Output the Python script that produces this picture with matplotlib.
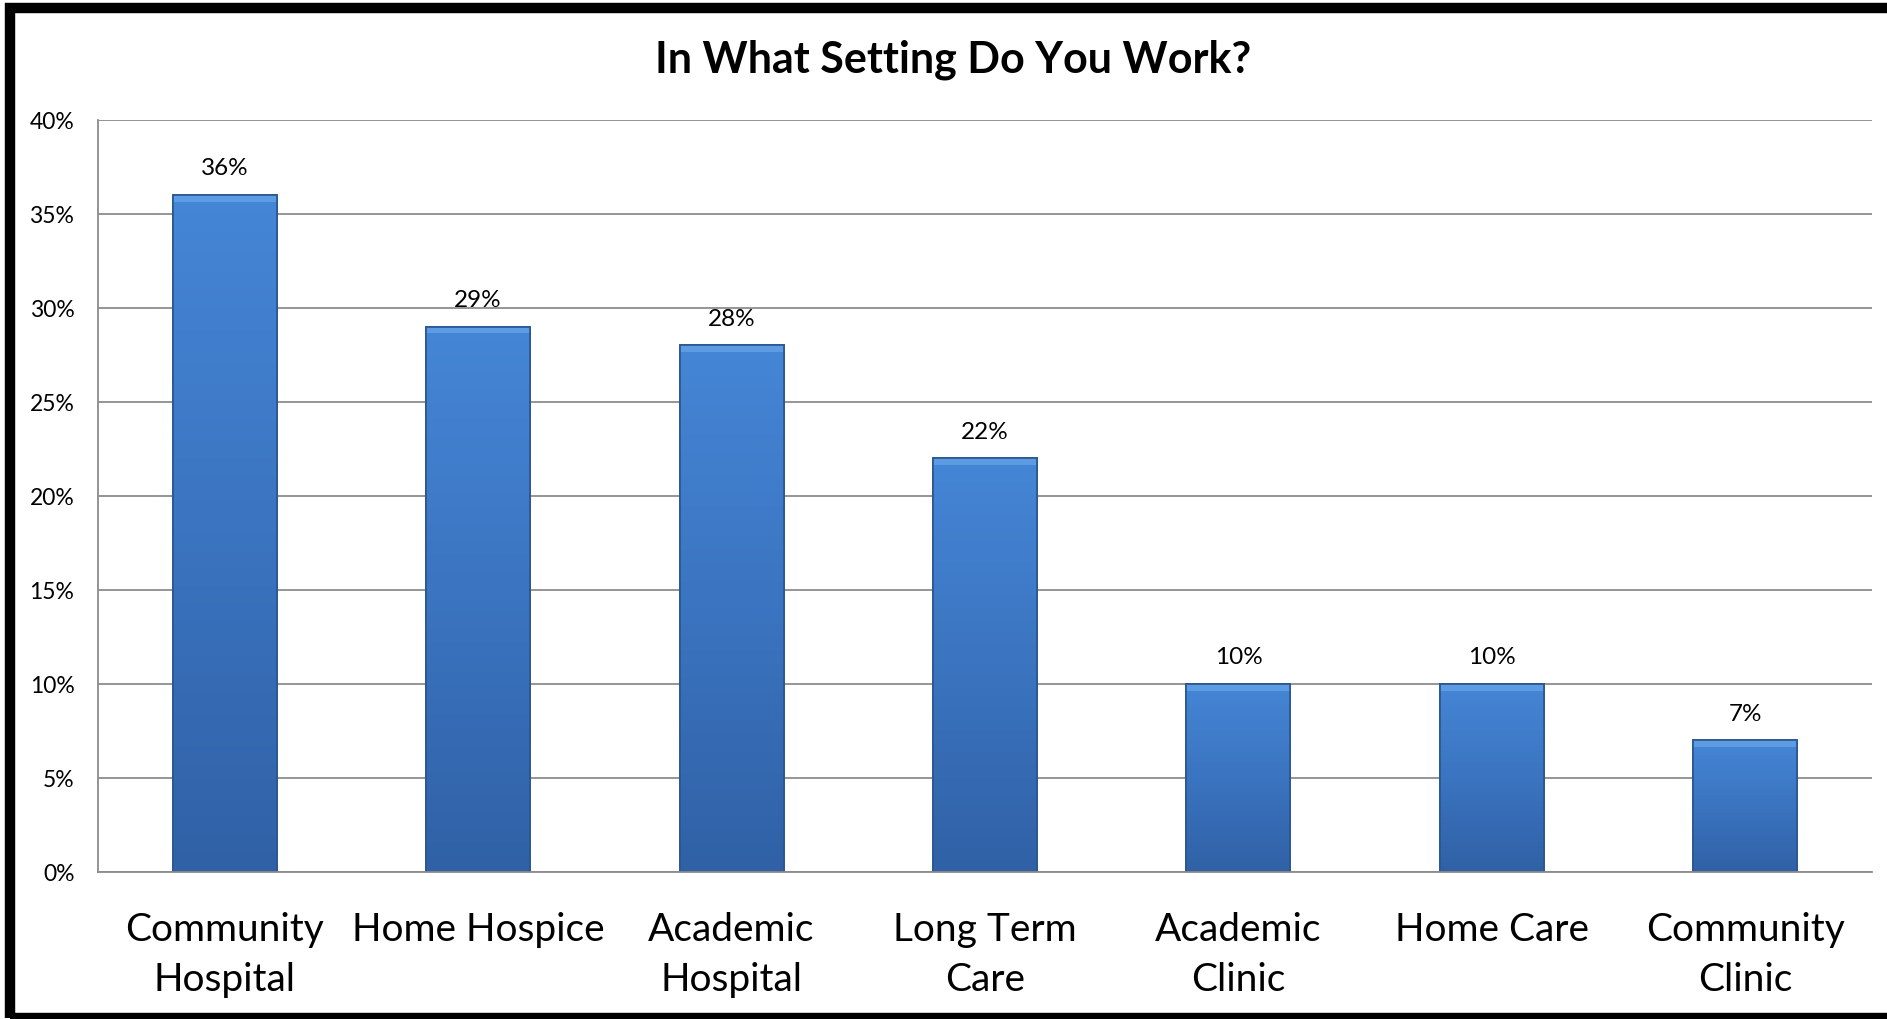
#!/usr/bin/python3

import matplotlib
matplotlib.use('Agg')
import matplotlib.pyplot as plt
import numpy as np
from matplotlib.colors import LinearSegmentedColormap
from matplotlib.patches import Rectangle

categories = ['Community\nHospital', 'Home Hospice', 'Academic\nHospital', 'Long Term\nCare',
              'Academic\nClinic', 'Home Care', 'Community\nClinic']
values = [36, 29, 28, 22, 10, 10, 7]
yticks = [0, 5, 10, 15, 20, 25, 30, 35, 40]
title = 'In What Setting Do You Work?'

plt.rcParams['font.family'] = ['Lato', 'DejaVu Sans']

W, H = 1887, 1020
fig = plt.figure(figsize=(W / 100, H / 100), dpi=100)
ax = fig.add_axes([98 / W, 1 - 873 / H, (1872 - 98) / W, (873 - 120.7) / H])

x = np.arange(len(values))
bars = ax.bar(x, values, width=0.41, color='#3d78c6', edgecolor='#2a5590', linewidth=1.2, zorder=2)

# vertical gradient inside each bar
cmap = LinearSegmentedColormap.from_list('bluegrad', ['#3061a6', '#3b74c0', '#4586d6'])
grad = np.linspace(0, 1, 256).reshape(-1, 1)
for b in bars:
    x0, w, h = b.get_x(), b.get_width(), b.get_height()
    im = ax.imshow(grad, cmap=cmap, origin='lower', aspect='auto',
                   extent=[x0, x0 + w, 0, h], zorder=2.1)
    im.set_clip_path(b)
    # light bevel at top
    ax.add_patch(Rectangle((x0, h - 0.35), w, 0.35, facecolor='#5d9be3', edgecolor='none', zorder=2.2))
    ax.add_patch(Rectangle((x0, 0), w, h, facecolor='none', edgecolor='#2a5590', linewidth=1.2, zorder=2.3))

for xi, v in zip(x, values):
    ax.annotate('%d%%' % v, (xi, v), xytext=(0, 19.5), textcoords='offset points',
                ha='center', va='center', fontsize=17.5, color='black')

ax.set_xlim(-0.5, len(values) - 0.5)
ax.set_ylim(0, 40)
ax.set_yticks(yticks)
ax.set_yticklabels(['%d%%' % t for t in yticks], fontsize=16.5)
ax.set_xticks(x)
ax.set_xticklabels(categories, fontsize=28, linespacing=1.5)
ax.tick_params(axis='both', length=0)
ax.tick_params(axis='y', pad=17)
ax.tick_params(axis='x', pad=28)
ax.yaxis.grid(True, color='#8c8c8c', linewidth=1.3, zorder=0)
ax.set_axisbelow(True)
for s in ['top', 'right']:
    ax.spines[s].set_visible(False)
for s in ['left', 'bottom']:
    ax.spines[s].set_color('#8c8c8c')
    ax.spines[s].set_linewidth(1.3)

fig.text(953 / W, 1 - 60 / H, title, ha='center', va='center', fontsize=31, fontweight='bold')

# black frame (left, top, bottom; right side is cut off)
fig.add_artist(Rectangle((10 / W, 1 - 1019 / H), 2000 / W, (1019 - 8.5) / H, transform=fig.transFigure,
                         facecolor='none', edgecolor='black', linewidth=7.5))

fig.savefig('out.png', dpi=100)
plt.close()
